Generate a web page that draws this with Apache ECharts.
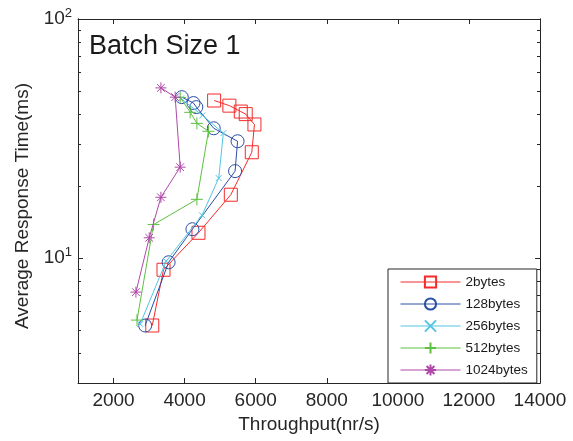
<!DOCTYPE html>
<html><head><meta charset="utf-8">
<script src="https://cdn.jsdelivr.net/npm/echarts@6/dist/echarts.min.js"></script>
<style>html,body{margin:0;padding:0;background:#fff}#c{width:573px;height:441px}</style>
</head><body><div id="c"></div>
<script>
const seriesNames = ['2bytes', '128bytes', '256bytes', '512bytes', '1024bytes'];
const s2bytes = [[3090,5.22],[3406,8.93],[4390,12.75],[5300,18.4],[5890,27.7],[5965,36.2],[5720,40.0],[5580,41.0],[5260,43.4],[4830,45.6]];
const s128bytes = [[2890,5.22],[3550,9.6],[4220,13.2],[5420,23.1],[5490,30.8],[4820,34.9],[4330,42.8],[4250,44.5],[3920,47.1]];
const s256bytes = [[2750,5.3],[3480,9.7],[4490,15.1],[4960,21.6],[5090,33.3],[4500,39.5],[3900,46.5]];
const s512bytes = [[2660,5.5],[3125,13.8],[4345,17.6],[4670,33.9],[4345,36.6],[4157,40.7],[3875,47.0]];
const s1024bytes = [[2630,7.2],[3004,12.15],[3333,17.95],[3876,24.0],[3735,47.1],[3333,51.5]];
const xTicks = [2000,4000,6000,8000,10000,12000,14000];
const yMajor = [10,100];
const yMinor = [3,4,5,6,7,8,9,20,30,40,50,60,70,80,90];

const seriesData = [s2bytes, s128bytes, s256bytes, s512bytes, s1024bytes];
const colors = ['#f52a2a', '#2a4ea6', '#52c6e4', '#5cc040', '#b048a8'];
const symbols = ['rect', 'circle', 'path://M0,0L10,10M10,0L0,10', 'path://M5,0L5,10M0,5L10,5', 'path://M5,0L5,10M0,5L10,5M1.5,1.5L8.5,8.5M8.5,1.5L1.5,8.5'];
const symbolSizes = [13, 13, 6, 12, 11];

const FONT = 'Liberation Sans, Arial, Helvetica, sans-serif';
const AX = '#262626';
const XMIN = 1000, XMAX = 14000, YMIN = 3, YMAX = 100;

function xAxisDef(pos, labels) {
  return {
    type: 'value', position: pos, min: XMIN, max: XMAX,
    axisLine: {show: true, onZero: false, lineStyle: {color: AX, width: 1}},
    axisTick: {show: true, inside: true, length: 5, customValues: xTicks, lineStyle: {color: AX}},
    axisLabel: {show: labels, customValues: xTicks, fontSize: 19, color: AX, fontFamily: FONT, margin: 8,
      formatter: function (v) { return String(v); }},
    splitLine: {show: false},
    name: labels ? 'Throughput(nr/s)' : '',
    nameLocation: 'middle', nameGap: 30,
    nameTextStyle: {fontSize: 19, color: AX, fontFamily: FONT}
  };
}
function yAxisDef(pos, vals, len, labels) {
  return {
    type: 'log', logBase: 10, position: pos, min: YMIN, max: YMAX,
    axisLine: {show: true, onZero: false, lineStyle: {color: AX, width: 1}},
    axisTick: {show: true, inside: true, length: len, customValues: vals, lineStyle: {color: AX}},
    axisLabel: {
      show: labels, customValues: vals, margin: 6, color: AX, fontFamily: FONT,
      formatter: function (v) { return '{b|10}{s|' + Math.round(Math.log10(v)) + '}'; },
      rich: {
        b: {fontSize: 19, color: AX, fontFamily: FONT},
        s: {fontSize: 13, color: AX, fontFamily: FONT, padding: [0, 0, 12, 0]}
      }
    },
    splitLine: {show: false}, minorTick: {show: false},
    name: labels ? 'Average Response Time(ms)' : '',
    nameLocation: 'middle', nameGap: 40, nameRotate: 90,
    nameTextStyle: {fontSize: 19, color: AX, fontFamily: FONT, padding: [0, 10, 0, 0]}
  };
}

const option = {
  animation: false,
  backgroundColor: '#fff',
  textStyle: {fontFamily: FONT},
  title: {
    text: 'Batch Size 1', left: 84, top: 28,
    textStyle: {fontSize: 27, fontWeight: 'normal', color: '#1a1a1a', fontFamily: FONT}
  },
  grid: {left: 78, right: 33, top: 19, bottom: 58, containLabel: false},
  xAxis: [xAxisDef('bottom', true), xAxisDef('top', false)],
  yAxis: [yAxisDef('left', yMajor, 5, true), yAxisDef('left', yMinor, 3, false),
          yAxisDef('right', yMajor, 5, false), yAxisDef('right', yMinor, 3, false)],
  legend: {
    orient: 'vertical', left: 388, top: 269,
    backgroundColor: '#fff', borderColor: AX, borderWidth: 1,
    padding: [6, 9, 6, 12], itemWidth: 60, itemHeight: 14, itemGap: 8,
    textStyle: {fontSize: 13.5, color: '#1a1a1a', fontFamily: FONT, lineHeight: 14},
    data: seriesNames.map(function (n, i) {
      return {name: n, lineStyle: {color: colors[i], width: 1}};
    })
  },
  series: seriesNames.map(function (n, i) {
    return {
      name: n, type: 'line', xAxisIndex: 0, yAxisIndex: 0,
      data: seriesData[i],
      symbol: symbols[i], symbolSize: symbolSizes[i],
      showAllSymbol: true,
      itemStyle: {color: 'rgba(255,255,255,0)', borderColor: colors[i], borderWidth: 1},
      lineStyle: {color: colors[i], width: 1},
      emphasis: {disabled: true},
      z: 2 + i
    };
  })
};
const chart = echarts.init(document.getElementById('c'), null, {renderer: 'canvas'});
chart.setOption(option);
</script></body></html>
